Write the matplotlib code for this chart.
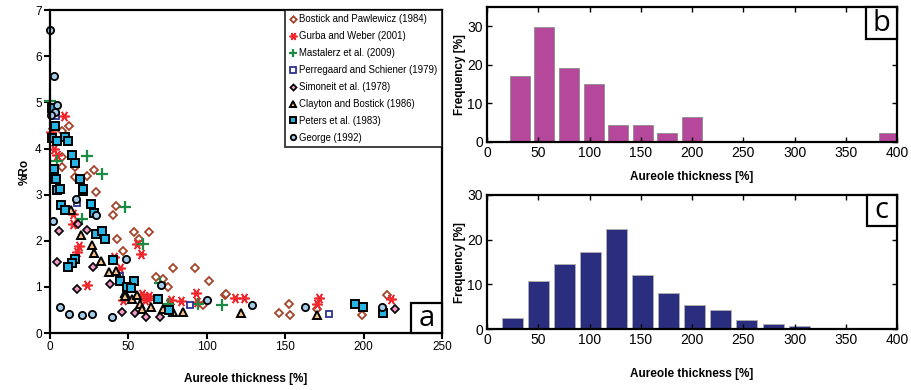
import numpy as np
import matplotlib.pyplot as plt
from matplotlib.patches import Rectangle

plt.rcParams['font.family'] = ['Liberation Sans', 'DejaVu Sans']

# vitrinite reflectance vs. aureole thickness, one list per study
bostick_x = [12.1, 7.9, 7.9, 7.9, 15.8, 28.1, 23.4, 15.8, 29.2, 41.9, 40.4, 53.6, 63.2, 42.6, 56.8,
             46.8, 78.4, 92.6, 67.7, 72.4, 75.5, 101.7, 111.7, 112.5, 97.9, 146.0, 152.2, 153.3,
             170.3, 199.0, 215.0]
bostick_y = [4.49, 4.39, 3.82, 3.60, 3.60, 3.53, 3.40, 3.38, 3.05, 2.75, 2.55, 2.19, 2.19, 2.03, 2.03,
             1.78, 1.40, 1.40, 1.21, 1.18, 0.99, 1.13, 0.82, 0.85, 0.61, 0.44, 0.64, 0.39,
             0.53, 0.39, 0.82]
gurba_x = [9.0, 0.8, 2.6, 4.3, 14.9, 14.9, 18.5, 17.0, 23.4, 44.7, 40.9, 55.7, 57.9, 46.8, 61.7,
           58.5, 60.5, 63.0, 77.1, 83.5, 93.2, 93.7, 118.1, 123.9, 171.3, 170.3, 217.8]
gurba_y = [4.70, 4.36, 4.00, 3.85, 2.59, 2.37, 1.88, 1.76, 1.04, 1.40, 1.65, 1.94, 1.72, 0.71, 0.77,
           0.85, 0.72, 0.80, 0.71, 0.70, 0.86, 0.68, 0.75, 0.77, 0.75, 0.64, 0.73]
mastalerz_x = [0.0, 4.7, 23.8, 33.4, 47.9, 20.6, 59.6, 70.2, 75.2, 94.7, 109.6]
mastalerz_y = [5.04, 3.72, 3.84, 3.44, 2.73, 2.48, 1.94, 1.08, 0.63, 0.64, 0.61]
perregaard_x = [3.8, 17.0, 44.7, 89.0, 177.7]
perregaard_y = [4.70, 2.81, 1.23, 0.61, 0.41]
simoneit_x = [17.9, 5.7, 23.4, 4.7, 27.7, 17.0, 38.3, 46.2, 54.1, 61.5, 70.2, 219.9]
simoneit_y = [2.36, 2.21, 2.24, 1.54, 1.44, 0.95, 1.06, 0.45, 0.44, 0.35, 0.34, 0.53]
clayton_x = [13.6, 20.0, 26.6, 28.1, 32.8, 37.9, 41.9, 47.7, 48.0, 52.6, 55.7, 57.5, 58.9, 64.7,
             72.0, 78.7, 85.1, 121.8, 170.3]
clayton_y = [2.66, 2.12, 1.90, 1.74, 1.57, 1.33, 1.35, 0.87, 0.80, 0.73, 0.82, 0.64, 0.53, 0.57,
             0.53, 0.46, 0.46, 0.43, 0.40]
peters_x = [1.0, 3.2, 1.5, 4.7, 9.4, 11.5, 14.3, 16.0, 2.6, 4.0, 19.2, 4.7, 6.2, 21.3, 20.9, 26.0,
            7.2, 9.4, 28.1, 29.2, 33.4, 34.9, 40.4, 15.8, 13.9, 11.5, 44.7, 53.6, 49.4, 51.9,
            69.2, 76.2, 194.3, 199.4, 212.2]
peters_y = [4.88, 4.48, 4.23, 4.16, 4.25, 4.16, 3.85, 3.69, 3.56, 3.35, 3.35, 3.10, 3.12, 3.07, 3.13,
            2.79, 2.77, 2.66, 2.61, 2.14, 2.21, 2.03, 1.58, 1.60, 1.51, 1.44, 1.13, 1.13, 0.99, 0.97,
            0.73, 0.51, 0.62, 0.56, 0.44]
george_x = [0.0, 2.6, 4.7, 3.0, 0.4, 16.8, 29.4, 2.1, 48.3, 71.1, 100.0, 128.8, 6.4, 12.1, 20.6,
            26.6, 39.8, 162.8, 211.8]
george_y = [6.56, 5.58, 4.94, 4.79, 4.73, 2.90, 2.57, 2.43, 1.60, 1.05, 0.71, 0.61, 0.57, 0.41, 0.40,
            0.41, 0.34, 0.56, 0.56]

# histogram of aureole thickness, two data sets
b_centers = [32, 56, 80, 104, 128, 152, 176, 200, 224, 248, 272, 296, 320, 344, 368, 392]
b_freq = [17.0, 29.8, 19.1, 14.9, 4.3, 4.3, 2.1, 6.4, 0, 0, 0, 0, 0, 0, 0, 2.1]
c_centers = [25.0, 50.4, 75.8, 101.2, 126.6, 152.0, 177.4, 202.8, 228.2, 253.6, 279.0, 304.4, 329.8]
c_freq = [2.6, 10.7, 14.6, 17.2, 22.4, 12.2, 8.0, 5.4, 4.25, 2.1, 1.05, 0.67, 0.3]

fig = plt.figure(figsize=(9.12, 3.9), dpi=100)
axA = fig.add_axes([0.0548, 0.146, 0.4298, 0.828])
axB = fig.add_axes([0.534, 0.637, 0.4496, 0.345])
axC = fig.add_axes([0.534, 0.156, 0.4496, 0.344])

series = [
    (bostick_x, bostick_y, 'Bostick and Pawlewicz (1984)',
     dict(marker='D', ms=4.4, mfc='white', mec='#A5432A', mew=1.3)),
    (gurba_x, gurba_y, 'Gurba and Weber (2001)',
     dict(marker=(6, 2, 90), ms=7.5, mec='#F0282D', mew=1.2)),
    (mastalerz_x, mastalerz_y, 'Mastalerz et al. (2009)',
     dict(marker='+', ms=8, mec='#1B8A43', mew=1.6)),
    (perregaard_x, perregaard_y, 'Perregaard and Schiener (1979)',
     dict(marker='s', ms=5, mfc='white', mec='#2E3192', mew=1.3)),
    (simoneit_x, simoneit_y, 'Simoneit et al. (1978)',
     dict(marker='D', ms=4.2, mfc='#F49AC8', mec='black', mew=1.2)),
    (clayton_x, clayton_y, 'Clayton and Bostick (1986)',
     dict(marker='^', ms=6, mfc='#F7C28E', mec='black', mew=1.4)),
    (peters_x, peters_y, 'Peters et al. (1983)',
     dict(marker='s', ms=5.5, mfc='#27B5E6', mec='black', mew=1.4)),
    (george_x, george_y, 'George (1992)',
     dict(marker='o', ms=5.2, mfc='#A3CBEA', mec='black', mew=1.3)),
]
for xs, ys, name, style in series:
    axA.plot(xs, ys, ls='none', label=name, clip_on=False, **style)

axA.set_xlim(0, 250)
axA.set_ylim(0, 7)
axA.set_xticks(np.arange(0, 251, 50))
axA.set_yticks(np.arange(0, 8, 1))
axA.tick_params(direction='out', length=4, width=1.5, labelsize=8.5, pad=2)
axA.set_xlabel('Aureole thickness [%]', fontweight='bold', fontsize=8.5, labelpad=14)
axA.set_ylabel('%Ro', fontweight='bold', fontsize=8.5, labelpad=3)
for sp in axA.spines.values():
    sp.set_linewidth(1.6)

leg = axA.legend(loc='upper right', borderaxespad=0, fontsize=6.9, frameon=True, fancybox=False,
                 edgecolor='black', handlelength=0.7, handletextpad=0.35, labelspacing=0.72,
                 borderpad=0.45, numpoints=1, markerscale=0.75)
leg.get_frame().set_linewidth(1.3)

axB.bar(b_centers, b_freq, width=19.5, color='#B5489B', edgecolor='#8c8c8c', linewidth=0.6)
axB.set_xlim(0, 400)
axB.set_ylim(0, 35)
axB.set_yticks([0, 10, 20, 30])
axB.set_xlabel('Aureole thickness [%]', fontweight='bold', fontsize=8.5, labelpad=8)
axB.set_ylabel('Frequency [%]', fontweight='bold', fontsize=8.5, labelpad=1)

axC.bar(c_centers, c_freq, width=20.5, color='#2B2E7E', edgecolor='#b0b0b0', linewidth=0.6)
axC.set_xlim(0, 400)
axC.set_ylim(0, 30)
axC.set_yticks([0, 10, 20, 30])
axC.set_xlabel('Aureole thickness [%]', fontweight='bold', fontsize=8.5, labelpad=15)
axC.set_ylabel('Frequency [%]', fontweight='bold', fontsize=8.5, labelpad=1)

for ax in (axB, axC):
    ax.set_xticks(np.arange(0, 401, 50))
    ax.tick_params(direction='in', length=3.5, width=1, top=True, right=True, labelsize=10, pad=3)
    for sp in ax.spines.values():
        sp.set_linewidth(1.6)

# panel letters in boxes
def letter(ax, s, x0, y0, w, h):
    ax.add_patch(Rectangle((x0, y0), w, h, transform=ax.transAxes, facecolor='white',
                           edgecolor='black', linewidth=1.6, clip_on=False, zorder=10))
    ax.text(x0 + w / 2, y0 + h / 2, s, transform=ax.transAxes, ha='center', va='center',
            fontsize=21, family='Open Sans', zorder=11)

letter(axA, 'a', 0.921, 0.0, 0.079, 0.093)
letter(axB, 'b', 0.924, 0.761, 0.076, 0.239)
letter(axC, 'c', 0.926, 0.77, 0.074, 0.23)

fig.savefig('out.png', dpi=100)
